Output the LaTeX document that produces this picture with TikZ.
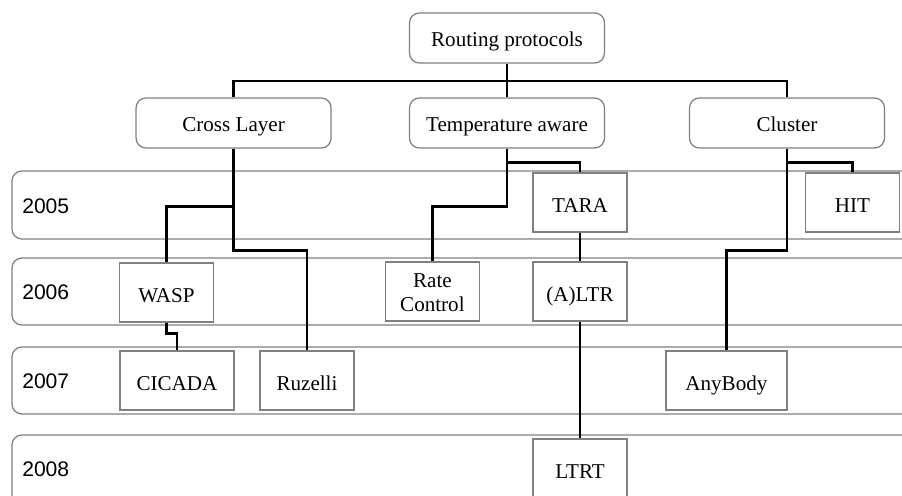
\documentclass[tikz,border=0pt]{standalone}
\usepackage{fontspec}
\setmainfont{Liberation Serif}
\newfontfamily\yearfont{Liberation Sans}
\usetikzlibrary{positioning}
\definecolor{framegray}{RGB}{128,128,128}

\begin{document}
\begin{tikzpicture}[
  cat/.style={draw=framegray,line width=0.9pt,rounded corners=7pt,fill=white,minimum width=4.875cm,minimum height=1.25cm,inner sep=0pt,text height=12pt,text depth=0pt,font=\fontsize{15}{17}\selectfont},
  proto/.style={draw=framegray,line width=0.9pt,fill=white,minimum width=2.35cm,minimum height=1.475cm,inner sep=0pt,align=center,text height=14pt,text depth=0pt,font=\fontsize{15}{17.7}\selectfont},
  band/.style={draw=framegray,line width=0.9pt,rounded corners=7pt},
  yr/.style={anchor=west,inner sep=0pt,font=\yearfont\fontsize{15}{17}\selectfont},
  link/.style={line width=2pt}]
  \path[use as bounding box](0,0) rectangle (22.55,-12.375);
  \clip(0,0) rectangle (22.55,-12.375);
  % year bands
  \draw[band](0.3,-4.275) rectangle (23,-5.975);
  \draw[band](0.3,-6.45) rectangle (23,-8.125);
  \draw[band](0.3,-8.675) rectangle (23,-10.35);
  \draw[band](0.3,-10.875) rectangle (23,-12.8);
  \node[yr](y5) at(0.55,-5.15){2005};
  \node[yr](y6) at(0.55,-7.31){2006};
  \node[yr](y7) at(0.55,-9.53){2007};
  \node[yr](y8) at(0.55,-11.74){2008};
  % categories
  \node[cat](root) at(12.675,-0.95){Routing protocols};
  \node[cat](cross) at(5.84,-3.075){Cross Layer};
  \node[cat](temp) at(12.675,-3.075){Temperature aware};
  \node[cat](cluster) at(19.675,-3.075){Cluster};
  % protocols
  \node[proto](tara) at(14.5,-5.06){TARA};
  \node[proto](hit) at(21.31,-5.06){HIT};
  \node[proto](wasp) at(4.16,-7.31){WASP};
  \node[proto,text height=29pt](rate) at(10.81,-7.29){Rate\\Control};
  \node[proto](altr) at(14.5,-7.29){(A)LTR};
  \node[proto,minimum width=2.85cm](cicada) at(4.425,-9.51){CICADA};
  \node[proto](ruzelli) at(7.675,-9.51){Ruzelli};
  \node[proto,minimum width=3.025cm](anybody) at(18.16,-9.51){AnyBody};
  \node[proto](ltrt) at(14.5,-11.71){LTRT};
  % links
  \coordinate(bar) at(12.675,-2.025);
  \draw[link](root)--(bar);
  \draw[link](bar)--(temp);
  \draw[link](cross.north)|-(bar)-|(cluster.north);
  \draw[link](cross.south)--++(0,-1.45)-|(wasp.north);
  \draw[link](cross.south)--++(0,-2.55)-|(ruzelli.north);
  \draw[link](wasp.south)--++(0,-0.275)-|(cicada.north);
  \draw[link](temp.south)--++(0,-0.35)-|(tara.north);
  \draw[link](temp.south)--++(0,-1.45)-|(rate.north);
  \draw[link](tara)--(altr);
  \draw[link](altr)--(ltrt);
  \draw[link](cluster.south)--++(0,-0.35)-|(hit.north);
  \draw[link](cluster.south)--++(0,-2.55)-|(anybody.north);
\end{tikzpicture}
\end{document}
